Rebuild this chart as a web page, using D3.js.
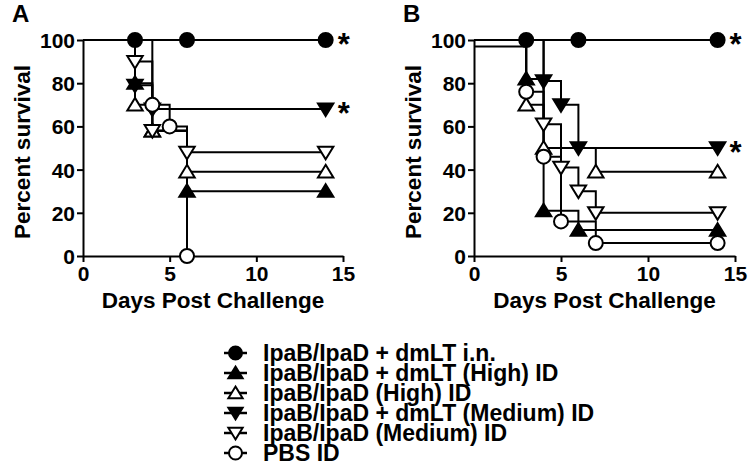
<!DOCTYPE html>
<html><head><meta charset="utf-8">
<script src="https://cdn.jsdelivr.net/npm/d3@7"></script>
<style>body{margin:0;background:#fff}svg{display:block}text{font-family:"Liberation Sans",Arial,sans-serif;font-weight:bold;fill:#000}</style>
</head><body>
<svg id="c" width="750" height="476"></svg>
<script>
const seriesNames = ["IpaB/IpaD + dmLT i.n.","IpaB/IpaD + dmLT (High) ID","IpaB/IpaD (High) ID","IpaB/IpaD + dmLT (Medium) ID","IpaB/IpaD (Medium) ID","PBS ID"];
const seriesSymbols = ["circle","triUp","triUp","triDown","triDown","circle"];
const seriesFilled = [true,true,false,true,false,false];
const xTicks = [0,5,10,15];
const yTicks = [0,20,40,60,80,100];
// Panel A: [day, percent survival]
const panelA = [
  [[0,100],[3,100],[6,100],[14,100]],
  [[0,100],[3,80],[4,58],[6,30],[14,30]],
  [[0,100],[3,70],[4,58],[6,39],[14,39]],
  [[0,100],[3,79],[4,68],[14,68]],
  [[0,100],[3,90],[4,58],[6,48],[14,48]],
  [[0,100],[4,70],[5,60],[6,0]]
];
const starsA = [100,68];
// Panel B
const panelB = [
  [[0,100],[3,100],[6,100],[14,100]],
  [[0,100],[3,82],[4,21],[6,12],[14,12]],
  [[0,100],[3,70],[4,50],[7,39],[14,39]],
  [[0,100],[4,81],[5,70],[6,50],[14,50]],
  [[0,100],[4,61],[5,41],[6,30],[7,20],[14,20]],
  [[0,97],[3,76],[4,46],[5,16],[7,6],[14,6]]
];
const starsB = [100,50];

const svg = d3.select("#c");
const FONT = 21;

function marker(g, type, filled, x, y, s){
  const fill = filled ? "#000" : "#fff";
  if(type==="circle"){
    g.append("circle").attr("cx",x).attr("cy",y).attr("r",s*0.5)
     .attr("fill",fill).attr("stroke","#000").attr("stroke-width",2);
  } else {
    const h = s*0.9, w = s*0.55;
    const pts = type==="triUp"
      ? [[x,y-h*0.55],[x+w,y+h*0.45],[x-w,y+h*0.45]]
      : [[x,y+h*0.55],[x+w,y-h*0.45],[x-w,y-h*0.45]];
    g.append("polygon").attr("points",pts.map(p=>p.join(",")).join(" "))
     .attr("fill",fill).attr("stroke","#000").attr("stroke-width",2).attr("stroke-linejoin","miter");
  }
}

function panel(x0, x1, data, stars, label, labelX){
  const x = d3.scaleLinear().domain([0,15]).range([x0,x1]);
  const y = d3.scaleLinear().domain([0,100]).range([256,40]);
  const g = svg.append("g");
  const ax = g.append("g").attr("transform",`translate(0,256)`)
    .call(d3.axisBottom(x).tickValues(xTicks).tickSize(6).tickSizeOuter(0).tickPadding(3));
  const ay = g.append("g").attr("transform",`translate(${x0},0)`)
    .call(d3.axisLeft(y).tickValues(yTicks).tickSize(6).tickSizeOuter(0).tickPadding(2));
  [ax,ay].forEach(a=>{
    a.selectAll("path,line").attr("stroke","#000").attr("stroke-width",2);
    a.selectAll("text").style("font-size",FONT+"px").style("font-family",'"Liberation Sans",Arial,sans-serif').style("font-weight","bold").attr("fill","#000");
  });
  ay.selectAll("text").attr("dy","0.36em");
  ax.selectAll("text").attr("dy","0.78em");
  g.append("text").attr("x",(x0+x1)/2).attr("y",308).attr("text-anchor","middle").style("font-size","22.5px").text("Days Post Challenge");
  g.append("text").attr("transform",`translate(${x0-53},152) rotate(-90)`).attr("text-anchor","middle").style("font-size","22.5px").text("Percent survival");
  g.append("text").attr("x",labelX).attr("y",22).style("font-size","24px").text(label);
  const line = d3.line().x(d=>x(d[0])).y(d=>y(d[1])).curve(d3.curveStepAfter);
  const lg = g.append("g");
  data.forEach(s=>{
    lg.append("path").attr("d",line(s)).attr("fill","none").attr("stroke","#000").attr("stroke-width",2);
  });
  data.forEach((s,i)=>{
    s.slice(1).forEach(p=>marker(g, seriesSymbols[i], seriesFilled[i], x(p[0]), y(p[1]), 14));
  });
  stars.forEach(v=>{
    g.append("text").attr("x",x(14)+12).attr("y",y(v)+15).style("font-size","31px").text("*");
  });
}

panel(83, 343, panelA, starsA, "A", 12);
panel(474, 735, panelB, starsB, "B", 403);

// legend
const lg = svg.append("g");
seriesNames.forEach((n,i)=>{
  const cy = 353 + i*20;
  lg.append("line").attr("x1",224).attr("x2",247).attr("y1",cy).attr("y2",cy).attr("stroke","#000").attr("stroke-width",2.5);
  marker(lg, seriesSymbols[i], seriesFilled[i], 235.5, cy, 13);
  lg.append("text").attr("x",263).attr("y",cy).attr("dy","0.36em").style("font-size","23px").text(n);
});
</script>
</body></html>
